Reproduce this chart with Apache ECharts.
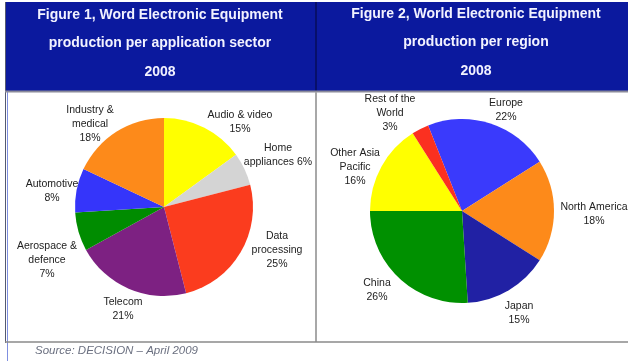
<!DOCTYPE html>
<html>
<head>
<meta charset="utf-8">
<script src="https://cdn.jsdelivr.net/npm/echarts@6/dist/echarts.min.js"></script>
<style>
html,body{margin:0;padding:0;background:#fff;}
#chart{width:628px;height:361px;}
</style>
</head>
<body>
<div id="chart"></div>
<script>
// ---- Data ----
var sectorNames = ['Audio & video', 'Home\nappliances', 'Data\nprocessing', 'Telecom', 'Aerospace &\ndefence', 'Automotive', 'Industry &\nmedical'];
var sectorValues = [15, 6, 25, 21, 7, 8, 18];
var regionNames = ['Europe', 'North America', 'Japan', 'China', 'Other Asia\nPacific', 'Rest of the\nWorld'];
var regionValues = [22, 18, 15, 26, 16, 3];
var title1 = ['Figure 1, Word Electronic Equipment', 'production per application sector', '2008'];
var title2 = ['Figure 2, World Electronic Equipment', 'production per region', '2008'];
var sourceText = 'Source: DECISION \u2013 April 2009';

// ---- Styles / layout ----
var sectorColors = ['#ffff00', '#d4d4d4', '#fb3c1e', '#7d2182', '#008c00', '#3535fa', '#fd8a1a'];
var regionColors = ['#3a3afc', '#fd8a1a', '#2121a4', '#009000', '#ffff00', '#fb3020'];
var sectorSep = ['\n', ' ', '\n', '\n', '\n', '\n', '\n'];
var regionSep = ['\n', '\n', '\n', '\n', '\n', '\n'];
var sectorLabelPos = [[240, 122], [278, 155], [277, 250], [123, 309], [47, 260], [52, 191], [90, 124]];
var regionLabelPos = [[506, 110], [594, 214], [519, 313], [377, 290], [355, 167], [390, 113]];
var headerBlue = '#0b199e';
var labelFont = 'Liberation Sans, Arial, sans-serif';

function buildData(names, values, colors) {
  return names.map(function (n, i) {
    return { name: n, value: values[i], itemStyle: { color: colors[i] } };
  });
}

function pieSeries(names, values, colors, seps, positions, center, radius, startAngle) {
  return {
    type: 'pie',
    center: center,
    radius: radius,
    startAngle: startAngle,
    clockwise: true,
    animation: false,
    silent: true,
    data: buildData(names, values, colors),
    itemStyle: { borderWidth: 0 },
    label: {
      show: true,
      position: 'inside',
      overflow: 'none',
      color: '#222',
      fontFamily: labelFont,
      fontSize: 10.5,
      lineHeight: 14,
      formatter: function (p) { return p.name + seps[p.dataIndex] + p.value + '%'; }
    },
    labelLine: { show: false },
    labelLayout: function (p) {
      var pos = positions[p.dataIndex];
      return { x: pos[0], y: pos[1], align: 'center', verticalAlign: 'middle' };
    }
  };
}

var chart = echarts.init(document.getElementById('chart'), null, { renderer: 'canvas' });
chart.setOption({
  backgroundColor: '#ffffff',
  animation: false,
  graphic: [
    { type: 'rect', shape: { x: 5, y: 2, width: 623, height: 89 }, style: { fill: headerBlue }, z: -1 },
    { type: 'line', shape: { x1: 316, y1: 2, x2: 316, y2: 91 }, style: { stroke: '#070f6a', lineWidth: 2 } },
    { type: 'line', shape: { x1: 5.5, y1: 2, x2: 5.5, y2: 343 }, style: { stroke: '#555a70', lineWidth: 1 } },
    { type: 'line', shape: { x1: 7.5, y1: 91, x2: 7.5, y2: 361 }, style: { stroke: '#7f8fe0', lineWidth: 1 } },
    { type: 'line', shape: { x1: 5, y1: 91.5, x2: 628, y2: 91.5 }, style: { stroke: '#8a8a9a', lineWidth: 2 } },
    { type: 'line', shape: { x1: 316, y1: 92, x2: 316, y2: 342 }, style: { stroke: '#a8a8a8', lineWidth: 2 } },
    { type: 'line', shape: { x1: 5, y1: 342, x2: 628, y2: 342 }, style: { stroke: '#8a8a8a', lineWidth: 1.5 } },
    { type: 'text', x: 160, y: 43.5, style: { text: title1.join('\n'), fill: '#f2f2ff', font: 'bold 14px Liberation Sans, Arial, sans-serif', textAlign: 'center', textVerticalAlign: 'middle', lineHeight: 28.5 } },
    { type: 'text', x: 476, y: 42.5, style: { text: title2.join('\n'), fill: '#f2f2ff', font: 'bold 14px Liberation Sans, Arial, sans-serif', textAlign: 'center', textVerticalAlign: 'middle', lineHeight: 28.5 } },
    { type: 'text', x: 35, y: 351, style: { text: sourceText, fill: '#6b7080', font: 'italic 11.5px Liberation Sans, Arial, sans-serif', textAlign: 'left', textVerticalAlign: 'middle' } }
  ],
  series: [
    pieSeries(sectorNames, sectorValues, sectorColors, sectorSep, sectorLabelPos, [164, 207], 89, 90),
    pieSeries(regionNames, regionValues, regionColors, regionSep, regionLabelPos, [462, 211], 92, 111.6)
  ]
});
</script>
</body>
</html>
